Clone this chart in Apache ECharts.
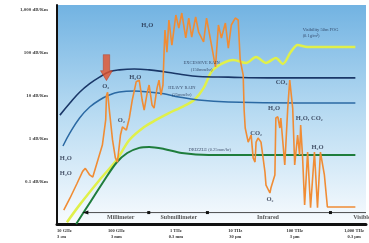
<!DOCTYPE html>
<html>
<head>
<meta charset="utf-8">
<script src="https://cdn.jsdelivr.net/npm/echarts@6/dist/echarts.min.js"></script>
<style>
html, body { margin: 0; padding: 0; background: #fff; }
#chart { width: 369px; height: 243px; }
</style>
</head>
<body>
<div id="chart"></div>
<script>
// x: frequency in GHz, y: attenuation in dB/km
var xTickValues = [10, 100, 1000, 10000, 100000, 1000000];
var xTickLabels = ['10 GHz\n3 cm', '100 GHz\n3 mm', '1 THz\n0.3 mm', '10 THz\n30 µm', '100 THz\n3 µm', '1,000 THz\n0.3 µm'];
var yTickValues = [0.1, 1, 10, 100, 1000];
var yTickLabels = ['0.1 dB/Km', '1 dB/Km', '10 dB/Km', '100 dB/Km', '1,000 dB/Km'];

// clear air absorption (H2O, O2, CO2 lines)
var clearAir = [
    [13, 0.021], [16.5, 0.04], [21.5, 0.086], [27, 0.17], [30, 0.2], [35.5, 0.14], [40, 0.125], [46, 0.24],
    [58, 0.7], [66, 2.7], [68, 10], [71, 12], [76, 4.6], [86, 0.92], [96, 0.35], [104, 0.28], [117, 1.2],
    [126, 1.85], [136, 2.06], [147, 1.57], [165, 3], [185, 7.9], [215, 21], [242, 23], [271, 7.9], [293, 4.6],
    [329, 11.5], [355, 17.7], [398, 6], [430, 5.1], [482, 15], [521, 23], [562, 10.3], [607, 17.7], [631, 89],
    [656, 341], [708, 104], [764, 584], [858, 152], [1000, 764], [1122, 380], [1259, 851], [1468, 222],
    [1648, 650], [1849, 234], [2154, 687], [2418, 306], [2929, 179], [3286, 650], [3981, 152], [4642, 47],
    [5208, 447], [5843, 222], [6813, 497], [7644, 129], [8577, 447], [10000, 650], [11200, 584], [12100, 68],
    [13600, 30], [14100, 4.6], [14700, 1.75], [16500, 0.82], [18500, 1.2], [20000, 0.35], [21500, 0.28],
    [22400, 0.82], [24200, 1.02], [27100, 0.82], [31600, 0.164], [32900, 0.081], [38300, 0.053], [39800, 0.069],
    [46400, 0.14], [48200, 3], [52100, 3.2], [56200, 1.75], [58400, 3], [68100, 0.24], [76400, 5.1],
    [82500, 23], [92600, 5.1], [100000, 0.24], [112000, 1.2], [121000, 0.41], [126000, 2.06], [136000, 0.35],
    [147000, 0.028], [165000, 0.48], [185000, 0.024], [215000, 0.48], [242000, 0.024], [271000, 0.48],
    [316000, 0.14], [355000, 0.025], [1050000, 0.025]
];
var excessiveRain = [
    [11.2, 3.5], [16.5, 6.7], [24, 12], [35.5, 19], [52, 27], [76, 36], [112, 40], [200, 42], [355, 40],
    [631, 36], [1122, 32], [2418, 28], [7644, 27], [35481, 26], [1050000, 26]
];
var heavyRain = [
    [12.6, 0.665], [16.5, 1.34], [24, 3], [35.5, 5.4], [52, 7.9], [76, 10.3], [112, 12.1], [200, 12.8],
    [355, 12.1], [631, 11], [1122, 9.3], [2418, 7.9], [7644, 7.1], [112000, 6.7], [1050000, 6.7]
];
var drizzle = [
    [21, 0.01], [35.5, 0.031], [63, 0.107], [100, 0.27], [152, 0.456], [242, 0.6], [355, 0.63],
    [631, 0.567], [1259, 0.456], [3548, 0.41], [1050000, 0.41]
];
var fog = [
    [14.7, 0.011], [24, 0.028], [52, 0.107], [100, 0.31], [165, 0.92], [293, 1.85], [464, 2.7], [764, 3.9],
    [1359, 5.7], [2030, 7.9], [2929, 15], [3981, 36], [5843, 55], [9260, 68], [15250, 58], [22387, 80],
    [32859, 58], [48194, 76], [63096, 55], [85770, 104], [112202, 152], [164816, 137], [1050000, 137]
];

// molecule labels [GHz, dB/km, text]
var gasLabels = [
    [329, 447, 'H₂O'], [66, 16.5, 'O₂'], [207, 27, 'H₂O'], [121, 2.7, 'O₂'], [14.1, 0.35, 'H₂O'],
    [14.1, 0.15, 'H₂O'], [60000, 20.5, 'CO₂'], [44700, 5.1, 'H₂O'], [176000, 3.0, 'H₂O, CO₂'],
    [22387, 1.34, 'CO₂'], [241546, 0.63, 'H₂O'], [38312, 0.037, 'O₂']
];
var curveLabels = [
    [2712, 49, 'EXCESSIVE RAIN\n(150mm/hr)'], [1259, 12.5, 'HEAVY RAIN\n(25mm/hr)'],
    [3720, 0.54, 'DRIZZLE (0.25mm/hr)']
];
var fogLabel = [136000, 290, 'Visibility 50m FOG\n(0.1g/m³)'];
var o2Arrow = [68, 45];

// spectrum bands
var bandLevel = 0.0185;
var bandMarks = [30, 350, 3400, 400000, 1585000];
var bandNames = ['Millimeter', 'Submillimeter', 'Infrared', 'Visible'];
var bandNameX = [118, 1122, 35500, 1350000];

function tickText(values, labels, v) {
    for (var i = 0; i < values.length; i++) {
        if (Math.abs(Math.log10(v) - Math.log10(values[i])) < 1e-6) {
            return labels[i];
        }
    }
    return '';
}

var serif = 'Liberation Serif, DejaVu Serif, serif';

function curve(name, data, color, width, smooth, z) {
    return {
        name: name,
        type: 'line',
        data: data,
        symbol: 'none',
        smooth: smooth,
        z: z,
        lineStyle: { color: color, width: width }
    };
}

function textSeries(list, style) {
    return {
        type: 'scatter',
        z: 10,
        symbolSize: 0,
        silent: true,
        data: list.map(function (d) {
            return { value: [d[0], d[1]], label: { formatter: d[2] } };
        }),
        label: Object.assign({ show: true, position: 'inside', fontFamily: serif, color: '#1d2740' }, style)
    };
}

var chart = echarts.init(document.getElementById('chart'));
var option = {
    animation: false,
    grid: {
        left: 57, right: 0, top: 5, bottom: 19,
        show: true,
        borderWidth: 0,
        backgroundColor: new echarts.graphic.LinearGradient(0, 0, 0, 1, [
            { offset: 0, color: '#72b3e2' },
            { offset: 0.5, color: '#b8dbf2' },
            { offset: 1, color: '#f8fbfe' }
        ])
    },
    xAxis: {
        type: 'log',
        logBase: 10,
        min: 10,
        max: 1585000,
        splitLine: { show: false },
        axisTick: { show: false },
        axisLine: { show: true, lineStyle: { color: '#111', width: 3 } },
        axisLabel: {
            fontSize: 4.5,
            lineHeight: 6,
            margin: 4,
            color: '#333',
            fontWeight: 'bold',
            fontFamily: serif,
            alignMinLabel: 'left',
            showMinLabel: true,
            showMaxLabel: true,
            formatter: function (v) { return tickText(xTickValues, xTickLabels, v); }
        }
    },
    yAxis: {
        type: 'log',
        logBase: 10,
        min: 0.01,
        max: 1310,
        splitLine: { show: false },
        axisTick: { show: false },
        axisLine: { show: true, lineStyle: { color: '#111', width: 2 } },
        axisLabel: {
            fontSize: 5,
            margin: 9,
            color: '#444',
            fontWeight: 'bold',
            fontFamily: serif,
            formatter: function (v) { return tickText(yTickValues, yTickLabels, v); }
        }
    },
    series: [
        curve('fog', fog, '#e0f04a', 2.5, 0.3, 2),
        curve('drizzle', drizzle, '#1f7d3c', 2, 0.3, 3),
        curve('heavy rain', heavyRain, '#2b69a3', 1.5, 0.4, 3),
        curve('excessive rain', excessiveRain, '#1a3768', 1.6, 0.4, 3),
        curve('clear air', clearAir, '#f08c34', 1.6, false, 4),
        {
            type: 'line',
            z: 5,
            data: bandMarks.map(function (x, i) {
                var item = { value: [x, bandLevel], symbol: 'rect', symbolSize: 3 };
                if (i === 0) {
                    item.symbol = 'triangle';
                    item.symbolRotate = 90;
                    item.symbolSize = [4, 6];
                }
                if (i === bandMarks.length - 1) {
                    item.symbol = 'none';
                }
                return item;
            }),
            lineStyle: { color: '#222', width: 0.8 },
            itemStyle: { color: '#111' }
        },
        textSeries(bandNames.map(function (n, i) { return [bandNameX[i], 0.0146, n]; }),
            { fontSize: 6, fontWeight: 'bold', color: '#2a2a2a' }),
        {
            type: 'scatter',
            z: 8,
            data: [o2Arrow],
            symbol: 'path://M3,0 L10,0 L10,16 L13,16 L6.5,26 L0,16 L3,16 Z',
            symbolSize: [12, 26],
            itemStyle: { color: '#e3512a', borderColor: '#b53218', borderWidth: 0.5 }
        },
        textSeries(gasLabels, { fontSize: 6.5, fontWeight: 'bold' }),
        textSeries(curveLabels, { fontSize: 4.5, lineHeight: 7, color: '#1d2a4a' }),
        textSeries([fogLabel], { fontSize: 4.5, lineHeight: 6, align: 'left', color: '#1d2a4a' })
    ]
};
chart.setOption(option);
</script>
</body>
</html>
